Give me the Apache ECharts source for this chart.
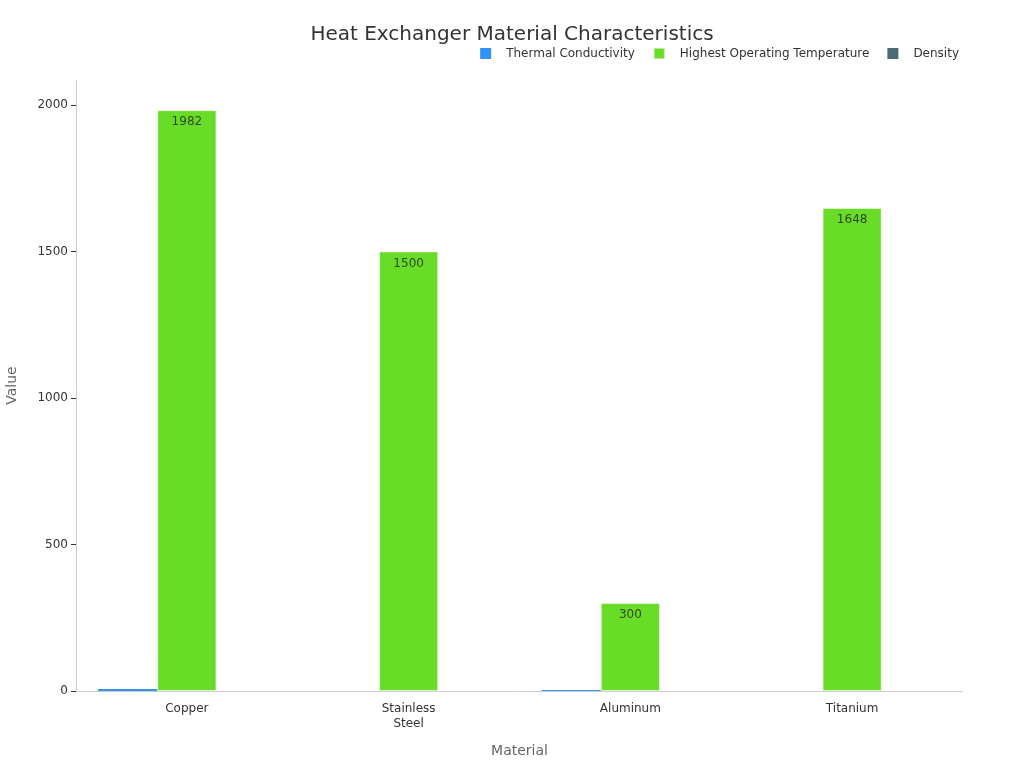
<!DOCTYPE html>
<html>
<head>
<meta charset="utf-8">
<script src="https://cdn.jsdelivr.net/npm/echarts@6/dist/echarts.min.js"></script>
<style>html,body{margin:0;padding:0;background:#fff}#c{width:1024px;height:768px}</style>
</head>
<body>
<div id="c"></div>
<script>
const categories = ['Copper', 'Stainless\nSteel', 'Aluminum', 'Titanium'];
const thermalConductivity = [7, 0, 3, 0];
const highestOperatingTemperature = [1982, 1500, 300, 1648];
const density = [0, 0, 0, 0];
const yTicks = [0, 500, 1000, 1500, 2000];

const chart = echarts.init(document.getElementById('c'));
const font = 'DejaVu Sans';
chart.setOption({
  backgroundColor: '#fff',
  textStyle: { fontFamily: font },
  title: {
    text: 'Heat Exchanger Material Characteristics',
    left: 'center', top: 20,
    textStyle: { fontSize: 20, fontWeight: 'normal', color: '#333', fontFamily: font }
  },
  legend: {
    top: 42, right: 60,
    itemWidth: 11, itemHeight: 11, itemGap: 18,
    icon: 'rect',
    textStyle: { fontSize: 12, color: '#333', fontFamily: font, padding: [0, 0, 0, 10] },
    data: ['Thermal Conductivity', 'Highest Operating Temperature', 'Density']
  },
  grid: { left: 76, right: 61, top: 80, bottom: 77, outerBoundsMode: 'none', containLabel: false },
  xAxis: {
    type: 'category',
    data: categories,
    name: 'Material', nameLocation: 'middle', nameGap: 53,
    nameTextStyle: { fontSize: 14, color: '#666', fontFamily: font },
    axisLine: { lineStyle: { color: '#ccc' } },
    axisTick: { alignWithLabel: true, lineStyle: { color: '#333' } },
    axisLabel: { color: '#333', fontSize: 12, fontFamily: font, interval: 0, margin: 10, lineHeight: 15 }
  },
  yAxis: {
    type: 'value',
    min: 0, max: 2085, interval: 500,
    name: 'Value', nameLocation: 'middle', nameGap: 57,
    nameTextStyle: { fontSize: 14, color: '#666', fontFamily: font },
    axisLine: { show: true, lineStyle: { color: '#ccc' } },
    axisTick: { show: true, lineStyle: { color: '#333' } },
    axisLabel: { color: '#333', fontSize: 12, fontFamily: font, showMaxLabel: false,
      formatter: v => yTicks.includes(v) ? String(v) : '' },
    splitLine: { show: false }
  },
  series: [
    {
      name: 'Thermal Conductivity', type: 'bar', data: thermalConductivity,
      barGap: 0, barCategoryGap: '20%',
      itemStyle: { color: '#3093f5', borderWidth: 0 }
    },
    {
      name: 'Highest Operating Temperature', type: 'bar', data: highestOperatingTemperature,
      barGap: 0, barCategoryGap: '20%',
      itemStyle: { color: '#68dc27', borderColor: 'rgba(255,255,255,0.5)', borderWidth: 1 },
      label: { show: true, position: 'insideTop', distance: 6, color: '#2e4a22', fontSize: 12, fontFamily: font }
    },
    {
      name: 'Density', type: 'bar', data: density,
      barGap: 0, barCategoryGap: '20%',
      itemStyle: { color: '#4c6a74', borderWidth: 0 }
    }
  ]
});
</script>
</body>
</html>
